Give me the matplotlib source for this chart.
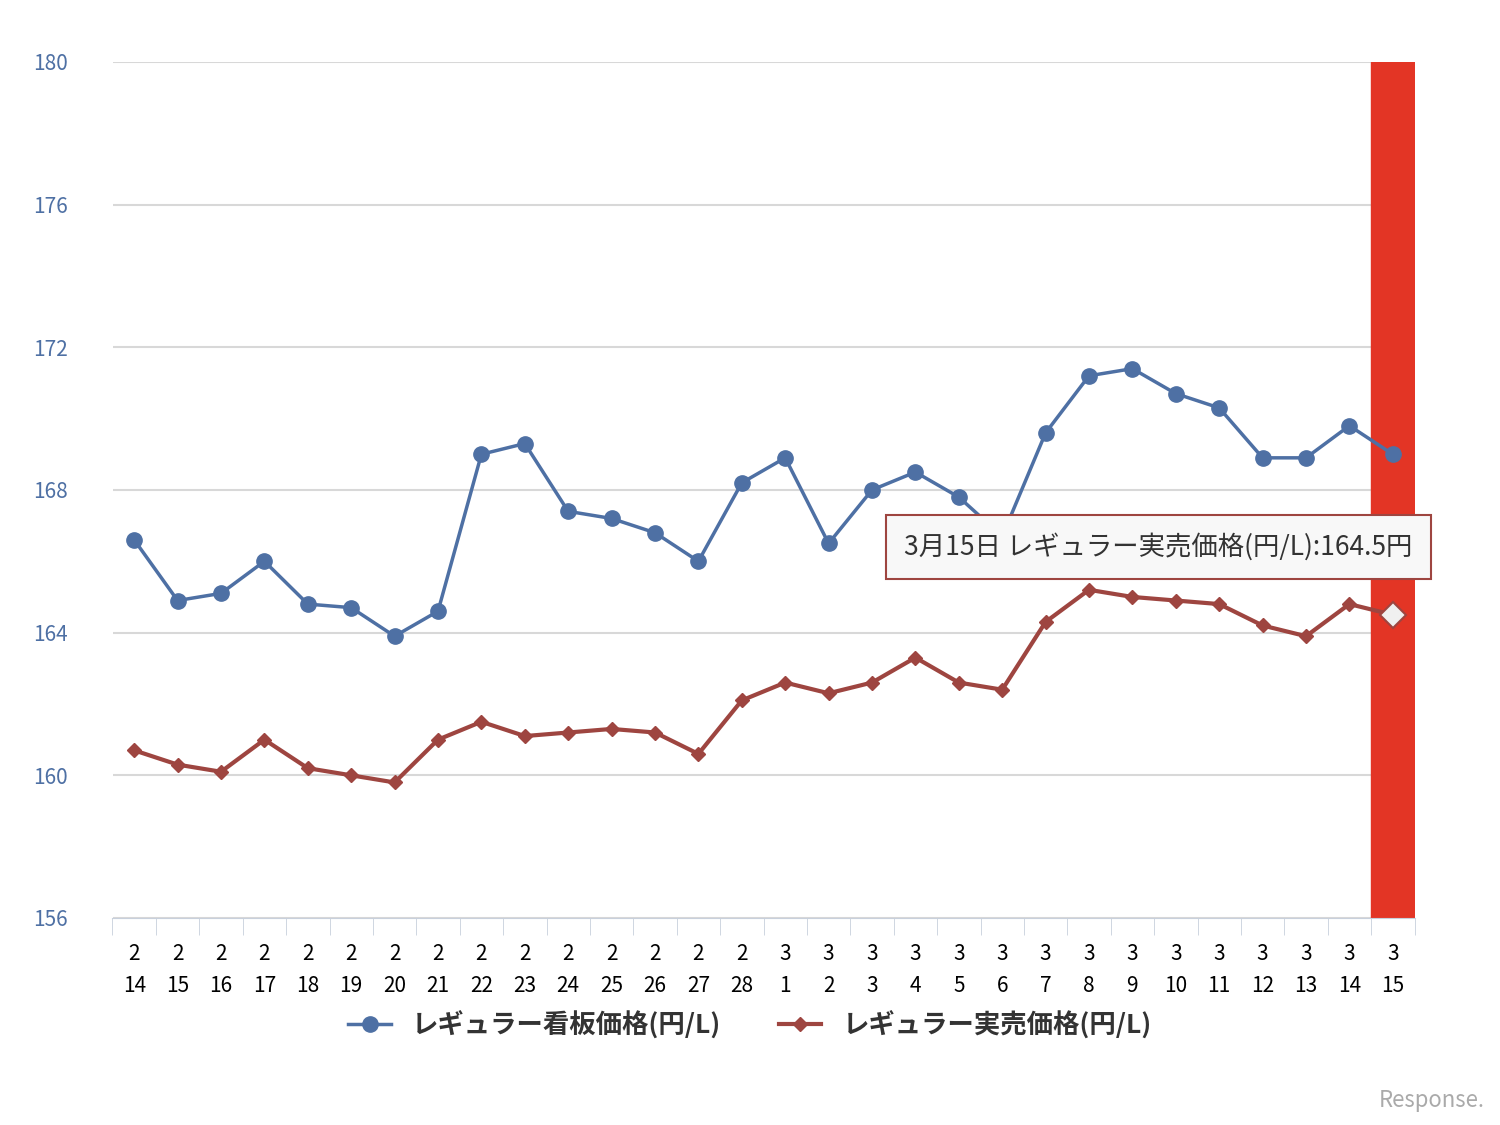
import matplotlib.pyplot as plt

plt.rcParams['font.family'] = ['Noto Sans CJK JP', 'DejaVu Sans']

months = [2] * 15 + [3] * 15
days = list(range(14, 29)) + list(range(1, 16))
kanban = [166.6, 164.9, 165.1, 166.0, 164.8, 164.7, 163.9, 164.6, 169.0, 169.3,
          167.4, 167.2, 166.8, 166.0, 168.2, 168.9, 166.5, 168.0, 168.5, 167.8,
          166.7, 169.6, 171.2, 171.4, 170.7, 170.3, 168.9, 168.9, 169.8, 169.0]
jitsubai = [160.7, 160.3, 160.1, 161.0, 160.2, 160.0, 159.8, 161.0, 161.5, 161.1,
            161.2, 161.3, 161.2, 160.6, 162.1, 162.6, 162.3, 162.6, 163.3, 162.6,
            162.4, 164.3, 165.2, 165.0, 164.9, 164.8, 164.2, 163.9, 164.8, 164.5]
yticks = [156, 160, 164, 168, 172, 176, 180]

blue = '#4e70a4'
red = '#9e4540'
x = list(range(len(days)))

fig = plt.figure(figsize=(15, 11.25), dpi=100)
ax = fig.add_axes([0.075, 0.184, 0.868, 0.761])
ax.set_axisbelow(True)

ax.axvspan(len(x) - 1.5, len(x) - 0.5, color='#e33525', zorder=2)
ax.plot(x, kanban, color=blue, lw=2.5, marker='o', ms=11, zorder=3,
        label='レギュラー看板価格(円/L)')
ax.plot(x, jitsubai, color=red, lw=3, marker='D', ms=7, zorder=3,
        label='レギュラー実売価格(円/L)')
ax.plot(x[-1], jitsubai[-1], marker='D', ms=13, mfc='#f0f0f0', mec=red, mew=1.5, zorder=4)

ax.set_xlim(-0.5, len(x) - 0.5)
ax.set_ylim(156, 180)
ax.set_yticks(yticks)
ax.set_yticklabels([str(v) for v in yticks], color='#4e70a4', fontsize=15)
ax.yaxis.set_tick_params(length=0, pad=32)
ax.grid(axis='y', color='#d8d8d8', lw=1.5)
ax.set_xticks(x)
ax.set_xticklabels([f'{m}\n{d}' for m, d in zip(months, days)], fontsize=15, linespacing=1.6)
ax.set_xticks([i - 0.5 for i in range(len(x) + 1)], minor=True)
ax.tick_params(axis='x', which='major', length=0, pad=18)
ax.tick_params(axis='x', which='minor', length=12, color='#c8d0dc')
for s in ['top', 'right', 'left']:
    ax.spines[s].set_visible(False)
ax.spines['bottom'].set_color('#c8d0dc')

# tooltip
ax.annotate('3月15日 レギュラー実売価格(円/L):164.5円', xy=(29, 164.5), xytext=(23.6, 166.4),
            ha='center', va='center', fontsize=19, color='#333333', zorder=6,
            bbox=dict(boxstyle='square,pad=0.7', fc='#f8f8f8', ec=red, lw=1.5))

leg = fig.legend(loc='lower center', bbox_to_anchor=(0.5, 0.055), ncol=2, frameon=False,
                 fontsize=19, handlelength=1.6, columnspacing=2.2)
for t in leg.get_texts():
    t.set_fontweight('bold')
    t.set_color('#333333')

fig.text(0.99, 0.012, 'Response.', ha='right', va='bottom', fontsize=16,
         color='#aaaaaa', style='italic')

fig.savefig('out.png', dpi=100, facecolor='white')
